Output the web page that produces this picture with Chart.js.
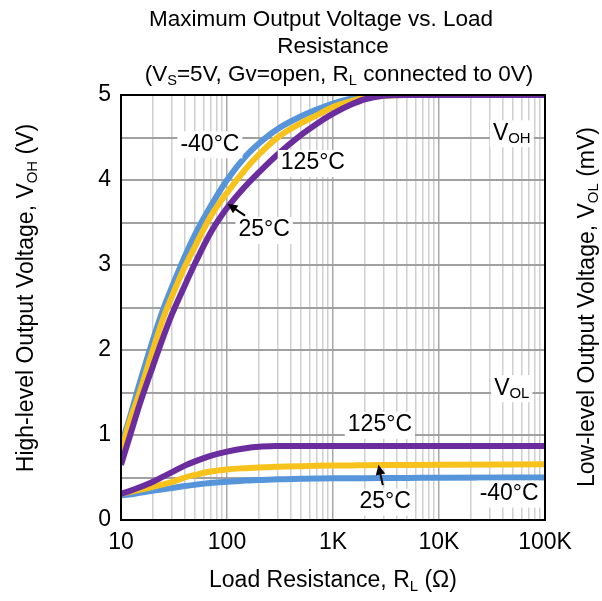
<!DOCTYPE html>
<html>
<head>
<meta charset="utf-8">
<script src="https://cdn.jsdelivr.net/npm/chart.js@4"></script>
<style>
  body { margin: 0; background: #fff; }
  #wrap { width: 602px; height: 601px; position: relative; }
</style>
</head>
<body>
<div id="wrap"><canvas id="voltChart" width="602" height="601"></canvas></div>
<script>
// Load resistance (ohm) sample points
var resistance = [10, 12, 15, 20, 25, 30, 40, 50, 70, 100, 150, 200, 300, 500, 700, 1000, 1500, 2000, 3000, 5000, 10000, 100000];

// High-level output voltage (V)
var vohMinus40 = [0.88, 1.19, 1.61, 2.12, 2.48, 2.73, 3.1, 3.36, 3.69, 4.0, 4.28, 4.43, 4.6, 4.75, 4.83, 4.9, 4.96, 4.985, 5.0, 5.0, 5.0, 5.0];
var voh25 = [0.8, 1.15, 1.5, 2.0, 2.37, 2.62, 2.98, 3.22, 3.57, 3.85, 4.13, 4.3, 4.5, 4.67, 4.76, 4.86, 4.93, 4.97, 4.99, 5.0, 5.0, 5.0];
var voh125 = [0.65, 0.97, 1.36, 1.81, 2.15, 2.41, 2.76, 3.02, 3.38, 3.67, 3.93, 4.09, 4.3, 4.53, 4.66, 4.78, 4.89, 4.95, 4.99, 5.0, 5.0, 5.0];

// Low-level output voltage, same resistance points
var volMinus40 = [0.29, 0.3, 0.32, 0.345, 0.36, 0.375, 0.4, 0.415, 0.435, 0.45, 0.465, 0.47, 0.48, 0.485, 0.488, 0.49, 0.49, 0.492, 0.494, 0.495, 0.497, 0.5];
var vol25 = [0.31, 0.33, 0.355, 0.39, 0.42, 0.445, 0.5, 0.53, 0.57, 0.595, 0.61, 0.618, 0.626, 0.633, 0.637, 0.64, 0.642, 0.644, 0.646, 0.648, 0.65, 0.655];
var vol125 = [0.31, 0.34, 0.385, 0.45, 0.51, 0.56, 0.64, 0.69, 0.755, 0.805, 0.845, 0.862, 0.87, 0.872, 0.872, 0.872, 0.872, 0.872, 0.872, 0.872, 0.872, 0.872];

var xDecades = [10, 100, 1000, 10000, 100000];
var xDecadeLabels = ["10", "100", "1K", "10K", "100K"];
var yTicks = [0, 1, 2, 3, 4, 5];

var blue = "#5695da";
var yellow = "#f8c21c";
var purple = "#6b2c9d";

function toPoints(ys) {
    return resistance.map(function (r, i) { return { x: r, y: ys[i] }; });
}

// text pieces: [text, isSubscript]
var titleLines = [
    [["Maximum Output Voltage vs. Load", false]],
    [["Resistance", false]],
    [["(V", false], ["S", true], ["=5V, Gv=open, R", false], ["L", true], [" connected to 0V)", false]]
];
var yTitle = [["High-level Output Voltage, V", false], ["OH", true], [" (V)", false]];
var y2Title = [["Low-level Output Voltage, V", false], ["OL", true], [" (mV)", false]];
var xTitle = [["Load Resistance, R", false], ["L", true], [" (\u03A9)", false]];

// annotations at data coordinates
var notes = [
    { x: 69, y: 4.42, parts: [["-40\u00B0C", false]] },
    { x: 646, y: 4.2, parts: [["125\u00B0C", false]] },
    { x: 224, y: 3.41, parts: [["25\u00B0C", false]], arrow: [148, 3.58, 101, 3.72] },
    { x: 48600, y: 4.55, parts: [["V", false], ["OH", true]] },
    { x: 48600, y: 1.55, parts: [["V", false], ["OL", true]] },
    { x: 2770, y: 1.12, parts: [["125\u00B0C", false]] },
    { x: 3100, y: 0.215, parts: [["25\u00B0C", false]], arrow: [2950, 0.41, 2680, 0.65] },
    { x: 45900, y: 0.31, parts: [["-40\u00B0C", false]] }
];

var FONT = "Liberation Sans, Arial, sans-serif";
var BIG = 23;

function richWidth(ctx, parts, size) {
    var w = 0;
    parts.forEach(function (p) {
        ctx.font = (p[1] ? size * 0.65 : size) + "px " + FONT;
        w += ctx.measureText(p[0]).width;
    });
    return w;
}

function drawRich(ctx, parts, cx, cy, size) {
    size = size || BIG;
    var w = richWidth(ctx, parts, size);
    var x = cx - w / 2;
    ctx.textBaseline = "middle";
    ctx.textAlign = "left";
    parts.forEach(function (p) {
        ctx.font = (p[1] ? size * 0.65 : size) + "px " + FONT;
        ctx.fillText(p[0], x, p[1] ? cy + size * 0.25 : cy);
        x += ctx.measureText(p[0]).width;
    });
    return w;
}

var textPlugin = {
    id: "textPlugin",
    afterDatasetsDraw: function (chart) {
        var ctx = chart.ctx;
        var xs = chart.scales.x, ys = chart.scales.y;
        var a = chart.chartArea;
        ctx.save();
        // frame
        ctx.strokeStyle = "#000";
        ctx.lineWidth = 2;
        ctx.strokeRect(a.left, a.top, a.right - a.left, a.bottom - a.top);

        notes.forEach(function (n) {
            var px = xs.getPixelForValue(n.x), py = ys.getPixelForValue(n.y);
            var w = richWidth(ctx, n.parts, BIG);
            ctx.fillStyle = "#fff";
            ctx.fillRect(px - w / 2 - 3, py - 13, w + 6, 27);
            ctx.fillStyle = "#000";
            drawRich(ctx, n.parts, px, py);
            if (n.arrow) {
                var x0 = xs.getPixelForValue(n.arrow[0]), y0 = ys.getPixelForValue(n.arrow[1]);
                var x1 = xs.getPixelForValue(n.arrow[2]), y1 = ys.getPixelForValue(n.arrow[3]);
                var ang = Math.atan2(y1 - y0, x1 - x0);
                ctx.strokeStyle = "#000";
                ctx.lineWidth = 2;
                ctx.beginPath();
                ctx.moveTo(x0, y0);
                ctx.lineTo(x1 - 6 * Math.cos(ang), y1 - 6 * Math.sin(ang));
                ctx.stroke();
                ctx.beginPath();
                ctx.moveTo(x1, y1);
                ctx.lineTo(x1 - 11 * Math.cos(ang - 0.45), y1 - 11 * Math.sin(ang - 0.45));
                ctx.lineTo(x1 - 11 * Math.cos(ang + 0.45), y1 - 11 * Math.sin(ang + 0.45));
                ctx.closePath();
                ctx.fill();
            }
        });

        // titles
        var mid = (a.left + a.right) / 2;
        ctx.fillStyle = "#000";
        drawRich(ctx, titleLines[0], mid - 12, 20, 22.5);
        drawRich(ctx, titleLines[1], mid, 47, 22.5);
        drawRich(ctx, titleLines[2], mid + 6, 75, 22.5);
        drawRich(ctx, xTitle, mid, 581);

        ctx.save();
        ctx.translate(27, 298);
        ctx.rotate(-Math.PI / 2);
        drawRich(ctx, yTitle, 0, 0);
        ctx.restore();

        ctx.save();
        ctx.translate(588, 307);
        ctx.rotate(-Math.PI / 2);
        drawRich(ctx, y2Title, 0, 0);
        ctx.restore();

        ctx.restore();
    }
};

function line(data, color, order) {
    return {
        data: toPoints(data),
        borderColor: color,
        backgroundColor: color,
        borderWidth: 6,
        pointRadius: 0,
        cubicInterpolationMode: "monotone",
        fill: false,
        order: order
    };
}

var ctx = document.getElementById("voltChart").getContext("2d");

var chart = new Chart(ctx, {
    type: "line",
    data: {
        datasets: [
            line(vohMinus40, blue, 3),
            line(voh25, yellow, 2),
            line(voh125, purple, 1),
            line(volMinus40, blue, 3),
            line(vol25, yellow, 2),
            line(vol125, purple, 1)
        ]
    },
    options: {
        responsive: false,
        animation: false,
        layout: { padding: { left: 0, top: 95, right: 57, bottom: 0 } },
        plugins: { legend: { display: false }, title: { display: false }, tooltip: { enabled: false } },
        scales: {
            x: {
                type: "logarithmic",
                min: 10,
                max: 100000,
                afterFit: function (s) { s.height = 81; },
                afterBuildTicks: function (s) {
                    var t = [];
                    xDecades.forEach(function (d, i) {
                        if (i === xDecades.length - 1) { t.push({ value: d }); return; }
                        for (var k = 1; k < 10; k++) t.push({ value: d * k });
                    });
                    s.ticks = t;
                },
                grid: {
                    color: function (c) {
                        return xDecades.indexOf(c.tick.value) >= 0 ? "#a8a8a8" : "#cfcfcf";
                    },
                    lineWidth: 1.5,
                    drawTicks: false
                },
                border: { display: false },
                ticks: {
                    autoSkip: false,
                    maxRotation: 0,
                    padding: 9,
                    color: "#000",
                    font: { family: FONT, size: BIG },
                    callback: function (v) {
                        var i = xDecades.indexOf(v);
                        return i >= 0 ? xDecadeLabels[i] : "";
                    }
                }
            },
            y: {
                min: 0,
                max: 5,
                afterFit: function (s) { s.width = 121; },
                afterBuildTicks: function (s) {
                    var t = [];
                    yTicks.forEach(function (v, i) {
                        t.push({ value: v });
                        if (i < yTicks.length - 1) t.push({ value: v + 0.5 });
                    });
                    s.ticks = t;
                },
                grid: { color: "#a0a0a0", lineWidth: 2, drawTicks: false },
                border: { display: false },
                ticks: {
                    padding: 10,
                    color: "#000",
                    font: { family: FONT, size: BIG },
                    callback: function (v) { return yTicks.indexOf(v) >= 0 ? String(v) : ""; }
                }
            }
        }
    },
    plugins: [textPlugin]
});
</script>
</body>
</html>
